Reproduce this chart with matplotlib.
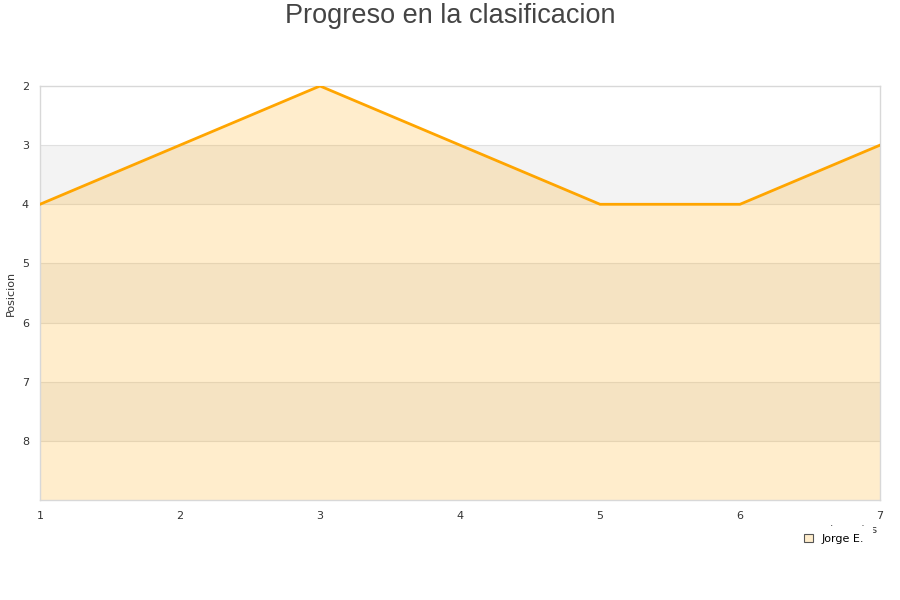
import matplotlib
matplotlib.use("Agg")
import matplotlib.pyplot as plt
from matplotlib.patches import Patch

jornadas = [1, 2, 3, 4, 5, 6, 7]
posiciones = [4, 3, 2, 3, 4, 4, 3]
serie = "Jorge E."
y_ticks = [2, 3, 4, 5, 6, 7, 8]
y_min, y_max = 2, 9

fig = plt.figure(figsize=(9, 6), dpi=100)
ax = fig.add_axes([40/900, 1-500/600, 840/900, 414/600])

# alternating bands
for lo in [3, 5, 7]:
    ax.axhspan(lo, lo+1, color="#f3f3f3", zorder=0, lw=0)
for t in y_ticks[1:]:
    ax.axhline(t, color="#e0e0e0", lw=0.8, zorder=1)

ax.fill_between(jornadas, posiciones, y_max, color="#FFA500", alpha=0.2, lw=0, zorder=2)
ax.plot(jornadas, posiciones, color="#FFA500", lw=2, zorder=3)

ax.set_xlim(1, 7)
ax.set_ylim(y_max, y_min)
ax.set_xticks(jornadas)
ax.set_yticks(y_ticks)
ax.tick_params(length=0, labelsize=8, colors="#333333", pad=8)
for s in ax.spines.values():
    s.set_color("#d8d8d8")
    s.set_linewidth(1)

fig.text(11/900, 1-293/600, "Posicion", rotation=90, ha="center", va="center",
         fontsize=8, color="#333333")
fig.text(878/900, 1-525/600, "Jornadas", ha="right", va="top",
         fontsize=8, color="#333333", zorder=1)

fig.text(0.5, 0.995, "Progreso en la clasificacion", ha="center", va="top",
         fontsize=19.5, color="#444444", family="Liberation Sans")

leg = fig.legend(handles=[Patch(facecolor="#FFEDCC", edgecolor="#555555", lw=0.8, label=serie)],
                 loc="center", bbox_to_anchor=(834/900, 1-539/600), fontsize=8,
                 frameon=True, handlelength=0.8, handleheight=0.8, borderpad=0.75)
leg.get_frame().set_edgecolor("white")
leg.get_frame().set_facecolor("white")
leg.get_frame().set_alpha(1)
leg.set_zorder(10)

fig.savefig("out.png", dpi=100)
